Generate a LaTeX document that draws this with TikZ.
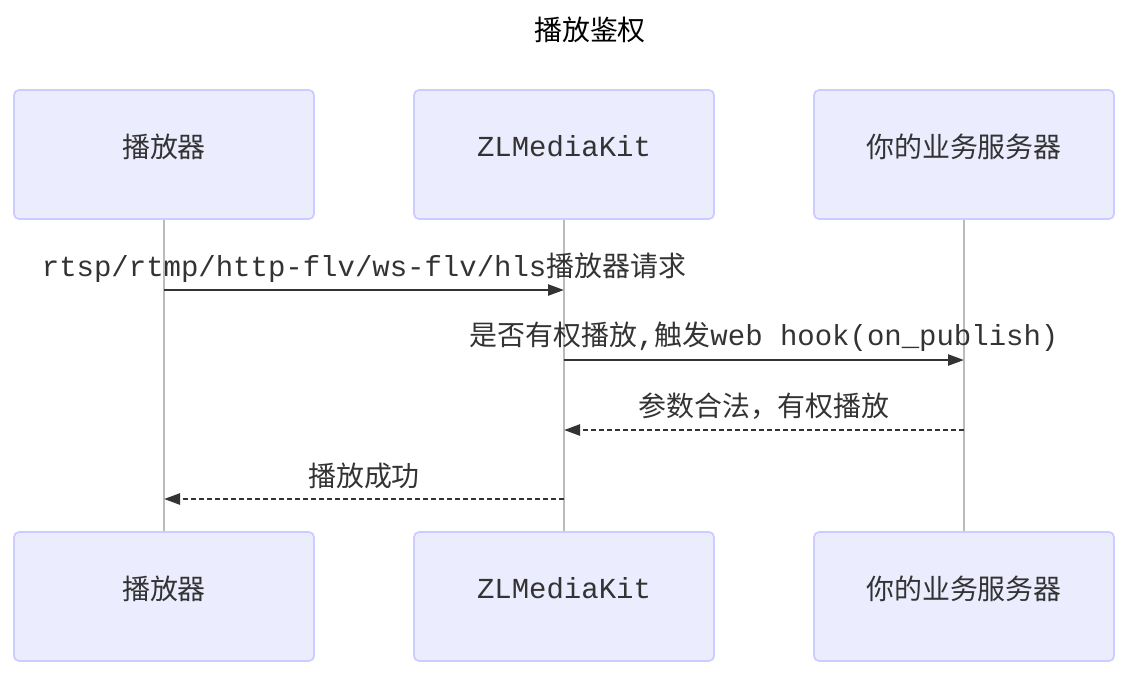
\documentclass[tikz,border=0pt]{standalone}
\usepackage{fontspec}
\setmonofont{Liberation Mono}
\newfontfamily\cjk{Noto Sans CJK SC}
\newcommand\mono{\ttfamily\fontsize{16.5}{19}\selectfont}
\usetikzlibrary{arrows.meta}
\definecolor{actorfill}{HTML}{ECECFF}
\definecolor{actorline}{HTML}{CCCCFF}
\definecolor{msgcol}{HTML}{333333}
\definecolor{lifecol}{HTML}{BBBBBB}
\tikzset{
  actor/.style={draw=actorline, fill=actorfill, line width=1pt,
    rounded corners=0.1cm, minimum width=6cm, minimum height=2.58cm},
  actortext/.style={yshift=0.16cm, text=msgcol,
    font=\cjk\fontsize{15.9}{19}\selectfont},
  lifeline/.style={draw=lifecol, line width=0.6pt},
  msg/.style={draw=msgcol, line width=1.4pt,
    -{Triangle[length=0.32cm,width=0.22cm]}},
  reply/.style={msg, dash pattern=on 0.1cm off 0.06cm},
  msglabel/.style={text=msgcol, inner sep=0pt,
    font=\cjk\fontsize{15.9}{19}\selectfont},
}
\begin{document}
\begin{tikzpicture}[x=0.02cm,y=-0.02cm]
  \useasboundingbox (0,0) rectangle (1148,694);
  \node[font=\cjk\fontsize{15.9}{19}\selectfont] (title) at (590,30) {播放鉴权};
  % actors, top and bottom
  \node[actor, label={[actortext]center:播放器}] (player) at (164,154.5) {};
  \node[actor, label={[actortext]center:{\mono ZLMediaKit}}] (zlm) at (564,154.5) {};
  \node[actor, label={[actortext]center:你的业务服务器}] (biz) at (964,154.5) {};
  \node[actor, label={[actortext]center:播放器}] (player2) at (164,596.5) {};
  \node[actor, label={[actortext]center:{\mono ZLMediaKit}}] (zlm2) at (564,596.5) {};
  \node[actor, label={[actortext]center:你的业务服务器}] (biz2) at (964,596.5) {};
  \draw[lifeline] (player) -- (player2);
  \draw[lifeline] (zlm) -- (zlm2);
  \draw[lifeline] (biz) -- (biz2);
  % points on the lifelines
  \coordinate (p1) at (164,290);
  \coordinate (z1) at (564,290);
  \coordinate (z2) at (564,360);
  \coordinate (b2) at (964,360);
  \coordinate (b3) at (964,430);
  \coordinate (z3) at (564,430);
  \coordinate (z4) at (564,499);
  \coordinate (p4) at (164,499);
  \begin{scope}
    \draw[msg] (p1) to (z1);
    \draw[msg] (z2) to (b2);
    \draw[reply] (b3) to (z3);
    \draw[reply] (z4) to (p4);
  \end{scope}
  \node[msglabel] (l1) at (364,268) {{\mono rtsp/rtmp/http-flv/ws-flv/hls}播放器请求};
  \node[msglabel] (l2) at (764,337) {是否有权播放{\mono ,}触发{\mono web hook(on\_publish)}};
  \node[msglabel] (l3) at (764,406) {参数合法，有权播放};
  \node[msglabel] (l4) at (364,476) {播放成功};
\end{tikzpicture}
\end{document}
